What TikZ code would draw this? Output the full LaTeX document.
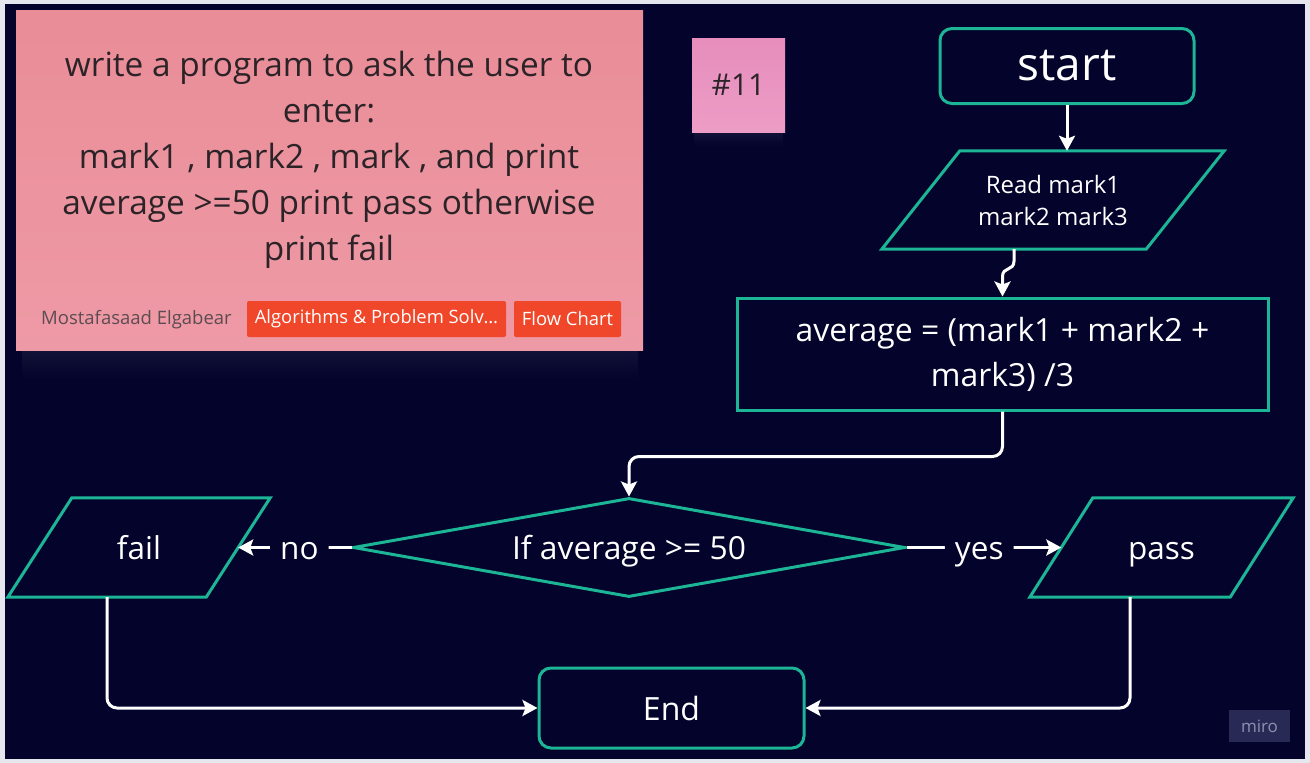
\documentclass[tikz,border=0pt]{standalone}
\usepackage{fontspec}
\setmainfont{Open Sans}
\usetikzlibrary{arrows.meta,calc,shapes.geometric}
\definecolor{board}{HTML}{03032B}
\definecolor{rim}{HTML}{E6E6EE}
\definecolor{flow}{HTML}{1CB595}
\definecolor{notetop}{HTML}{E98D97}
\definecolor{notebot}{HTML}{EE9AA6}
\definecolor{pinktop}{HTML}{E68DBC}
\definecolor{pinkbot}{HTML}{ED9DC6}
\definecolor{tag}{HTML}{F0472A}
\definecolor{ink}{HTML}{2B2327}
\definecolor{authorgray}{HTML}{5C4C52}
\definecolor{glow}{HTML}{121137}
\definecolor{logo}{HTML}{282A55}
\definecolor{logotext}{HTML}{8E8FB0}
\tikzset{
  >={Stealth[length=15pt,width=16pt,inset=3pt]},
  flat/.style={text height=24pt,text depth=0pt},
  term/.style={draw=flow,line width=3pt,rounded corners=12pt,text=white,font=\fontsize{32}{38}\selectfont},
  proc/.style={draw=flow,line width=3pt,text=white,align=center,font=\fontsize{31.9}{45}\selectfont},
  io/.style={inner sep=0pt,text=white,align=center,font=\fontsize{31.5}{36}\selectfont},
  ioline/.style={draw=flow,line width=3pt},
  dec/.style={diamond,aspect=5.58,draw=flow,line width=3pt,inner sep=0pt,text=white,flat,font=\fontsize{31.8}{36}\selectfont},
  arr/.style={->,draw=white,line width=3pt,rounded corners=10pt},
  lbl/.style={fill=board,text=white,inner xsep=10pt,inner ysep=0pt,flat,font=\fontsize{31.5}{36}\selectfont},
  tagbox/.style={fill=tag,rounded corners=2pt,text=white,minimum height=36pt,inner xsep=0pt,font=\fontsize{18.4}{22}\selectfont},
}
\begin{document}
\begin{tikzpicture}[x=1pt,y=-1pt]
\fill[rim] (0,0) rectangle (1310,763);
\fill[board] (5,4) rectangle (1305,759);
% sticky notes
\shade[top color=glow,bottom color=board] (22,350) rectangle (638,380);
\shade[top color=glow,bottom color=board] (694,132) rectangle (783,146);
\node[top color=notetop,bottom color=notebot,minimum width=627,minimum height=340] (task) at (329.5,180) {};
\node[text=ink,align=center,font=\fontsize{33.4}{46}\selectfont] (prompt) at (329,160)
  {write a program to ask the user to\\enter:\\mark1 , mark2 , mark , and print\\average >=50 print pass otherwise\\print fail};
\node[text=authorgray,font=\fontsize{18.5}{22}\selectfont] (author) at (136.5,320) {Mostafasaad Elgabear};
\node[tagbox,minimum width=259] (topic) at (376.5,319) {Algorithms \& Problem Solv\ldots};
\node[tagbox,minimum width=107] (kind) at (567.5,319) {Flow Chart};
\node[top color=pinktop,bottom color=pinkbot,minimum width=93,minimum height=94,text=ink,font=\fontsize{30}{36}\selectfont] (num) at (738.5,85) {\#11};
% flow chart
\node[term,minimum width=254,minimum height=75,font=\fontsize{46}{50}\selectfont] (start) at (1067,66) {start};
\node[io,minimum width=264,minimum height=98,font=\fontsize{24}{32}\selectfont] (read) at (1053,200) {Read mark1\\mark2 mark3};
\node[proc,minimum width=531,minimum height=112] (avg) at (1002.5,354) {average = (mark1 + mark2 +\\mark3) /3};
\node[dec,minimum width=552,minimum height=99] (check) at (629,547.5) {If average >= 50};
\node[io,flat,minimum width=198,minimum height=99] (fail) at (139,547.5) {fail};
\node[io,flat,minimum width=200,minimum height=99] (pass) at (1161.5,547.5) {pass};
\node[term,minimum width=265,minimum height=80] (end) at (671.5,708) {End};
\foreach \n/\s in {read/39,fail/32,pass/31.5}{
  \draw[ioline] ($(\n.north west)+(\s,0)$) -- ($(\n.north east)+(\s,0)$) -- ($(\n.south east)+(-\s,0)$) -- ($(\n.south west)+(-\s,0)$) -- cycle;
  \coordinate (\n-foot) at ($(\n.south)+(-\s,0)$);
}
\draw[arr] (start.south) -- (start.south |- read.north);
\draw[arr,sharp corners] (read-foot) -- ++(0,12) .. controls +(0,10) and +(0,-10) .. ($(avg.north)+(0,-20)$) -- (avg.north);
\draw[arr] (avg.south) -- ++(0,45) -| (check.north);
\draw[arr] (check.west) -- node[lbl,pos=0.46]{no} (fail.east);
\draw[arr] (check.east) -- node[lbl,pos=0.47]{yes} (pass.west);
\draw[arr] (fail-foot) |- (end.west);
\draw[arr] (pass-foot) |- (end.east);
\node[fill=logo,minimum width=61,minimum height=32,text=logotext,font=\fontsize{17}{20}\selectfont] (miro) at (1259.5,726) {miro};
\end{tikzpicture}
\end{document}
